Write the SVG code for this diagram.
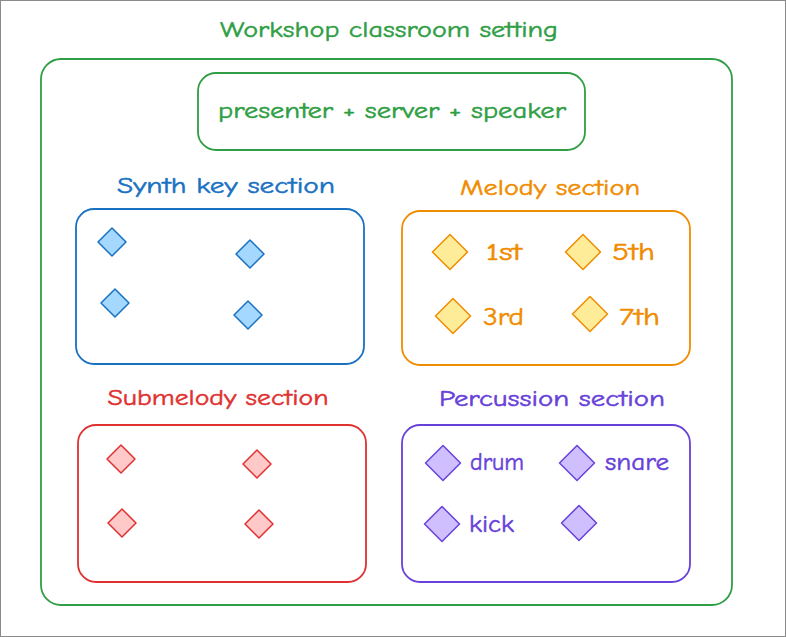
<svg xmlns="http://www.w3.org/2000/svg" width="786" height="637" viewBox="0 0 786 637">
<style>
text{font-family:"Comic Neue","Open Sans","Liberation Sans",sans-serif;stroke-width:0.5;}
.g{fill:#2f9e44;stroke:#2f9e44}.b{fill:#1971c2;stroke:#1971c2}.o{fill:#f08c00;stroke:#f08c00}.r{fill:#e03131;stroke:#e03131}.p{fill:#6741d9;stroke:#6741d9}
.box{fill:none;stroke-width:1.8}
.dia{stroke-width:1.5;stroke-linejoin:round}
.lbl{font-size:23px;text-anchor:middle}
.item{font-size:25px}
</style>
<defs>
<path id="d14" d="M0,-14 L14,0 L0,14 L-14,0 Z"/>
<path id="d18" d="M0,-17.5 L17.5,0 L0,17.5 L-17.5,0 Z"/>
</defs>
<rect x="0.5" y="0.5" width="785" height="636" fill="#fff" stroke="#8a8a8a" stroke-width="1"/>
<g id="setting">
<text class="lbl g" x="389" y="37" textLength="338" lengthAdjust="spacingAndGlyphs" font-size="25">Workshop classroom setting</text>
<rect class="box" x="41" y="59" width="691" height="546" rx="20" stroke="#2f9e44"/>
</g>
<g id="presenter">
<rect class="box" x="198" y="73" width="387" height="77" rx="18" stroke="#2f9e44"/>
<text class="lbl g" x="392" y="118" textLength="348" lengthAdjust="spacingAndGlyphs" font-size="25">presenter + server + speaker</text>
</g>
<g id="synth">
<text class="lbl b" x="226" y="193" textLength="218" lengthAdjust="spacingAndGlyphs">Synth key section</text>
<rect class="box" x="76" y="209" width="288" height="155" rx="18" stroke="#1971c2"/>
<g fill="#a5d8ff" stroke="#1971c2" class="dia">
<use href="#d14" x="112" y="242"/>
<use href="#d14" x="250" y="254"/>
<use href="#d14" x="115" y="303"/>
<use href="#d14" x="248" y="315"/>
</g>
</g>
<g id="melody">
<text class="lbl o" x="550" y="195" textLength="180" lengthAdjust="spacingAndGlyphs">Melody section</text>
<rect class="box" x="402" y="211" width="288" height="154" rx="18" stroke="#f08c00"/>
<g fill="#ffec99" stroke="#f08c00" class="dia">
<use href="#d18" x="450" y="252"/>
<use href="#d18" x="583" y="252"/>
<use href="#d18" x="453" y="316"/>
<use href="#d18" x="590" y="314"/>
</g>
<text class="item o" x="486" y="260" textLength="36" lengthAdjust="spacingAndGlyphs">1st</text>
<text class="item o" x="612" y="260" textLength="43" lengthAdjust="spacingAndGlyphs">5th</text>
<text class="item o" x="483" y="325" textLength="41" lengthAdjust="spacingAndGlyphs">3rd</text>
<text class="item o" x="619" y="325" textLength="41" lengthAdjust="spacingAndGlyphs">7th</text>
</g>
<g id="submelody">
<text class="lbl r" x="218" y="405" textLength="221" lengthAdjust="spacingAndGlyphs">Submelody section</text>
<rect class="box" x="78" y="425" width="288" height="157" rx="18" stroke="#e03131"/>
<g fill="#ffc9c9" stroke="#e03131" class="dia">
<use href="#d14" x="121" y="459"/>
<use href="#d14" x="257" y="464"/>
<use href="#d14" x="122" y="523"/>
<use href="#d14" x="259" y="524"/>
</g>
</g>
<g id="percussion">
<text class="lbl p" x="552" y="406" textLength="226" lengthAdjust="spacingAndGlyphs">Percussion section</text>
<rect class="box" x="402" y="425" width="288" height="157" rx="18" stroke="#6741d9"/>
<g fill="#d0bfff" stroke="#6741d9" class="dia">
<use href="#d18" x="443" y="463"/>
<use href="#d18" x="577" y="463"/>
<use href="#d18" x="442" y="524"/>
<use href="#d18" x="579" y="523"/>
</g>
<text class="item p" x="470" y="470" textLength="54" lengthAdjust="spacingAndGlyphs">drum</text>
<text class="item p" x="605" y="470" textLength="64" lengthAdjust="spacingAndGlyphs">snare</text>
<text class="item p" x="469" y="532" textLength="45" lengthAdjust="spacingAndGlyphs">kick</text>
</g>
<g id="connectors"/>
</svg>
